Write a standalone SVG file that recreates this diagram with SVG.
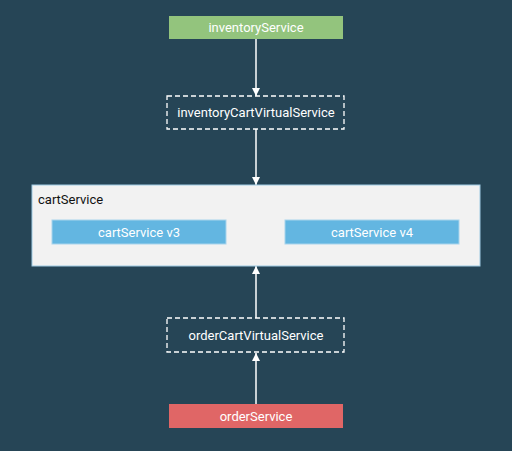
<svg xmlns="http://www.w3.org/2000/svg" width="512" height="451" viewBox="0 0 512 451">
<defs>
<marker id="ah" viewBox="0 0 10 10" refX="10" refY="5" markerWidth="8" markerHeight="8" markerUnits="userSpaceOnUse" orient="auto">
<path d="M0,0 L10,5 L0,10 z" fill="#ffffff"/>
</marker>
<style>
text{font-family:Roboto,"Liberation Sans",sans-serif;font-size:13px}
.w{fill:#ffffff;text-anchor:middle}
.dash{fill:none;stroke:#ffffff;stroke-width:1.3;stroke-dasharray:5,3}
.blue{fill:#63b6e1;stroke:#a8d4ec;stroke-width:1}
.conn{stroke:#ffffff;stroke-width:1.5;fill:none;marker-end:url(#ah)}
</style>
</defs>
<rect width="512" height="451" fill="#264556"/>
<g id="connectors">
<line class="conn" x1="256" y1="39" x2="256" y2="96"/>
<line class="conn" x1="256" y1="129" x2="256" y2="185"/>
<line class="conn" x1="256" y1="318" x2="256" y2="266"/>
<line class="conn" x1="256" y1="404" x2="256" y2="353"/>
</g>
<g id="inventoryService">
<rect x="169" y="16" width="174" height="23" fill="#93c47d"/>
<text class="w" x="256" y="32">inventoryService</text>
</g>
<g id="inventoryCartVirtualService">
<rect class="dash" x="167" y="96" width="177" height="33"/>
<text class="w" x="256" y="117">inventoryCartVirtualService</text>
</g>
<g id="cartService">
<rect x="32" y="185" width="448" height="81" fill="#f2f2f2" stroke="#9fcbe3" stroke-width="1"/>
<text x="38" y="204" fill="#111111">cartService</text>
</g>
<g id="cartServiceV3">
<rect class="blue" x="52" y="220" width="174" height="24"/>
<text class="w" x="139" y="237">cartService v3</text>
</g>
<g id="cartServiceV4">
<rect class="blue" x="285" y="220" width="174" height="24"/>
<text class="w" x="372" y="237">cartService v4</text>
</g>
<g id="orderCartVirtualService">
<rect class="dash" x="167" y="318" width="177" height="34"/>
<text class="w" x="256" y="340">orderCartVirtualService</text>
</g>
<g id="orderService">
<rect x="169" y="404" width="174" height="24" fill="#e06666"/>
<text class="w" x="256" y="421">orderService</text>
</g>
</svg>
